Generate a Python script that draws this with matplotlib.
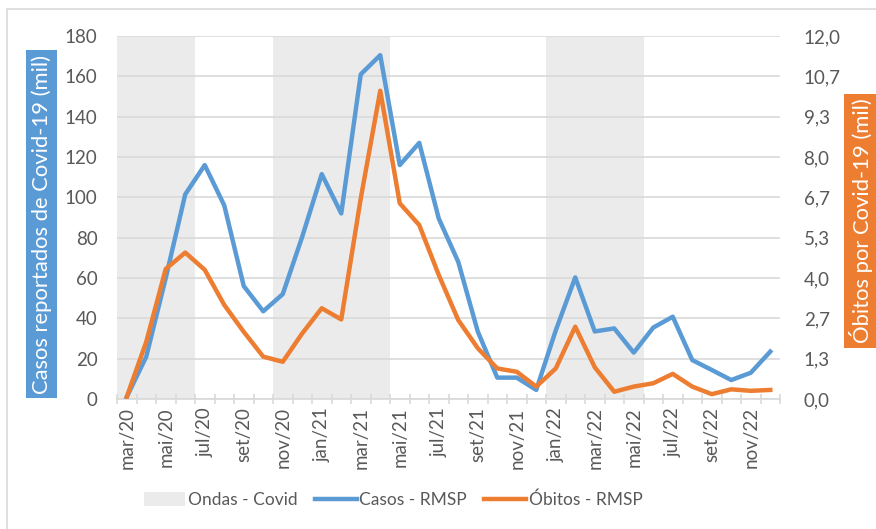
import numpy as np
import matplotlib
matplotlib.use("Agg")
import matplotlib.pyplot as plt
from matplotlib.patches import Patch, Rectangle
from matplotlib.lines import Line2D

plt.rcParams['font.family'] = ['Lato', 'DejaVu Sans']

# ---- data ----
meses = ["mar", "abr", "mai", "jun", "jul", "ago", "set", "out", "nov", "dez", "jan", "fev"]
anos_inicio = 20
n_meses = 34
categorias = []
for i in range(n_meses):
    m = meses[i % 12]
    ano = anos_inicio + (i + 2) // 12
    categorias.append(f"{m}/{ano}")

casos = [1, 21, 60, 101.5, 116, 96, 56, 43.5, 52, 80.5, 111.5, 92, 161, 170.5,
         116, 127, 89.5, 68, 33.5, 10.6, 10.6, 4.5, 34, 60.3, 33.5, 35, 23,
         35.4, 40.8, 19.3, 14.4, 9.4, 13, 23.5]
obitos = [0.07, 1.89, 4.3, 4.84, 4.27, 3.11, 2.22, 1.4, 1.23, 2.17, 3.0, 2.63,
          6.63, 10.19, 6.47, 5.75, 4.1, 2.61, 1.68, 1.01, 0.9, 0.41, 1.01, 2.39,
          1.05, 0.24, 0.41, 0.52, 0.83, 0.41, 0.16, 0.32, 0.27, 0.3]
ondas = [("mar/20", "jun/20"), ("nov/20", "abr/21"), ("jan/22", "mai/22")]

esq_ticks = list(range(0, 181, 20))
dir_ticks = list(np.linspace(0, 12, 10))

BLUE = "#5B9BD5"
ORANGE = "#ED7D31"
GRAY_BAND = "#EBEBEB"
GRID = "#D9D9D9"
TXT = "#595959"
LW = 3.2

fig = plt.figure(figsize=(8.76, 5.29), dpi=100)
ax = fig.add_axes([117/876, 1-399/529, (780-117)/876, (399-36)/529])
x = np.arange(len(categorias))

for a, b in ondas:
    ia, ib = categorias.index(a), categorias.index(b)
    ax.axvspan(ia - 0.5, ib + 0.5, color=GRAY_BAND, lw=0, zorder=0)

ax.plot(x, casos, color=BLUE, lw=LW, zorder=3, solid_joinstyle='round')
ax.set_xlim(-0.5, len(categorias) - 0.5)
ax.set_ylim(0, 180)
ax.set_yticks(esq_ticks)
ax.set_yticklabels([str(v) for v in esq_ticks], color=TXT, fontsize=13.5)
ax.tick_params(axis='y', length=0, pad=14)
ax.yaxis.grid(True, color=GRID, lw=1.2, zorder=1)
ax.set_axisbelow(True)

ax.set_xticks(x[::2])
ax.set_xticklabels(categorias[::2], rotation=90, color=TXT, fontsize=13.5)
ax.tick_params(axis='x', which='major', length=0, pad=6)
ax.set_xticks(np.arange(-0.5, len(categorias), 1), minor=True)
ax.tick_params(axis='x', which='minor', length=7, direction='inout', color=GRID, width=1.2)

for s in ['left', 'right', 'top']:
    ax.spines[s].set_visible(False)
ax.spines['bottom'].set_color(GRID)
ax.spines['bottom'].set_linewidth(1.2)

ax2 = ax.twinx()
ax2.plot(x, obitos, color=ORANGE, lw=LW, zorder=4, solid_joinstyle='round')
ax2.set_ylim(0, 12)
ax2.set_yticks(dir_ticks)
ax2.set_yticklabels([f"{v:.1f}".replace('.', ',') for v in dir_ticks], color=TXT, fontsize=13.5)
ax2.tick_params(axis='y', length=0, pad=17)
for s in ['left', 'right', 'top', 'bottom']:
    ax2.spines[s].set_visible(False)

# axis titles as coloured boxes
fig.text(41.5/876, 1-224/529, "Casos reportados de Covid-19 (mil)", rotation=90,
         ha='center', va='center', color='white', fontsize=15.8,
         bbox=dict(boxstyle='square,pad=0.22', fc=BLUE, ec='none'))
fig.text(861/876, 1-221/529, "Óbitos por Covid-19 (mil)", rotation=90,
         ha='center', va='center', color='white', fontsize=15.8,
         bbox=dict(boxstyle='square,pad=0.22', fc=ORANGE, ec='none'))

handles = [Patch(fc=GRAY_BAND, ec='none'),
           Line2D([], [], color=BLUE, lw=LW),
           Line2D([], [], color=ORANGE, lw=LW)]
leg = fig.legend(handles, ["Ondas - Covid", "Casos - RMSP", "Óbitos - RMSP"],
                 loc='center', bbox_to_anchor=(393/876, 1-500/529), ncol=3,
                 frameon=False, fontsize=12.5, handlelength=2.4, handletextpad=0.15,
                 columnspacing=1.0, labelcolor=TXT, handleheight=0.9)

fig.patches.append(Rectangle((7/876, -0.1), 1.2, 1.1 - 9/529, transform=fig.transFigure,
                             fill=False, ec=GRID, lw=1.2))

fig.savefig("out.png", dpi=100)
